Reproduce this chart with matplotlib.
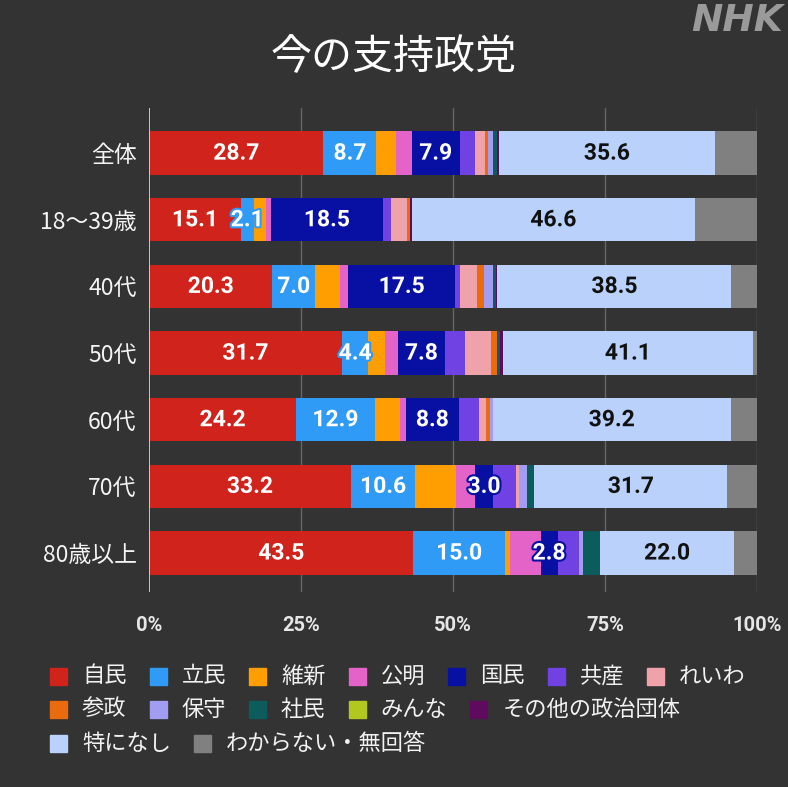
import matplotlib
matplotlib.use('Agg')
import matplotlib.pyplot as plt
import matplotlib.patheffects as pe
from matplotlib.patches import Rectangle
import numpy as np

plt.rcParams['font.family'] = ['Noto Sans CJK JP', 'DejaVu Sans']

groups = ['全体', '18〜39歳', '40代', '50代', '60代', '70代', '80歳以上']
parties = ['自民', '立民', '維新', '公明', '国民', '共産', 'れいわ',
           '参政', '保守', '社民', 'みんな', 'その他の政治団体',
           '特になし', 'わからない・無回答']

jimin = [28.7, 15.1, 20.3, 31.7, 24.2, 33.2, 43.5]
rikken = [8.7, 2.1, 7.0, 4.4, 12.9, 10.6, 15.0]
ishin = [3.3, 2.1, 4.1, 2.7, 4.2, 6.7, 0.9]
komei = [2.5, 0.7, 1.4, 2.1, 0.9, 3.1, 5.0]
kokumin = [7.9, 18.5, 17.5, 7.8, 8.8, 3.0, 2.8]
kyosan = [2.6, 1.3, 0.8, 3.3, 3.2, 3.8, 3.6]
reiwa = [1.5, 2.6, 2.8, 4.2, 1.3, 0.4, 0.0]
sansei = [0.6, 0.6, 1.2, 1.0, 0.6, 0.0, 0.0]
hoshu = [0.7, 0.0, 1.4, 0.0, 0.4, 1.4, 0.6]
shamin = [0.7, 0.0, 0.5, 0.5, 0.0, 1.2, 2.8]
minna = [0.0, 0.0, 0.0, 0.0, 0.0, 0.0, 0.0]
sonota = [0.3, 0.2, 0.3, 0.5, 0.0, 0.0, 0.0]
nashi = [35.6, 46.6, 38.5, 41.1, 39.2, 31.7, 22.0]
wakaranai = [6.9, 10.2, 4.2, 0.7, 4.3, 4.9, 3.8]

series = [jimin, rikken, ishin, komei, kokumin, kyosan, reiwa,
          sansei, hoshu, shamin, minna, sonota, nashi, wakaranai]

colors = ['#d0231b', '#2f9bf7', '#ff9e00', '#e463c8', '#0810a3', '#7142e3',
          '#f0a2aa', '#ea6a0e', '#a19df2', '#0c5c5c', '#b3c81e', '#5e0b5e',
          '#b9d1fb', '#808080']

# which series get value labels, and text colour
labeled = {0: 'white', 1: 'white', 4: 'white', 12: '#111111'}

bg = '#333333'
W, H = 788, 787
fig = plt.figure(figsize=(W / 100, H / 100), dpi=100, facecolor=bg)

# axes placed by pixel box
left, right, top, bottom = 149, 757, 108, 592
ax = fig.add_axes([left / W, 1 - bottom / H, (right - left) / W, (bottom - top) / H])
ax.set_facecolor(bg)

y = np.arange(len(groups))
start = np.zeros(len(groups))
for k, (vals, c) in enumerate(zip(series, colors)):
    vals = np.array(vals)
    ax.barh(y, vals, left=start, height=0.65, color=c, zorder=3)
    if k in labeled:
        for i, v in enumerate(vals):
            ax.text(start[i] + v / 2, y[i], f'{v:.1f}', ha='center', va='center',
                    color=labeled[k], fontsize=16.5, fontweight='bold',
                    family=['Roboto', 'DejaVu Sans'], zorder=5,
                    path_effects=[pe.withStroke(linewidth=3, foreground=c)])
    start += vals

ax.set_xlim(0, 100)
ax.set_ylim(6.585, -0.677)
ax.set_xticks([0, 25, 50, 75, 100])
ax.set_xticklabels(['0%', '25%', '50%', '75%', '100%'],
                   family=['Roboto', 'DejaVu Sans'], fontweight='bold', fontsize=14.5)
ax.set_yticks(y)
ax.set_yticklabels(groups, fontsize=16.5)
ax.tick_params(axis='x', length=0, pad=17, colors='#e6e6e6')
ax.tick_params(axis='y', length=0, pad=9, colors='#f4f4f4')
for s in ax.spines.values():
    s.set_visible(False)
for xv in [25, 50, 75, 100]:
    ax.axvline(xv, color='#666666', lw=1, zorder=1)
ax.axvline(0, color='#e0e0e0', lw=1.2, zorder=4)

fig.text(0.5, 1 - 58 / H, '今の支持政党', ha='center', va='center',
         color='white', fontsize=29.5)
fig.text(783 / W, 1 - 21 / H, 'NHK', ha='right', va='center', color='#9a9a9a',
         fontsize=27, fontweight='heavy', fontstyle='italic',
         family=['DejaVu Sans'])

# legend laid out in rows like the original
legend_rows = [[0, 1, 2, 3, 4, 5, 6], [7, 8, 9, 10, 11], [12, 13]]
row_y = [676, 709, 743]
renderer = fig.canvas.get_renderer()
sq = 17
for row, yy in zip(legend_rows, row_y):
    xx = 50
    for k in row:
        fig.patches.append(Rectangle((xx / W, 1 - (yy + sq / 2) / H), sq / W, sq / H,
                                     transform=fig.transFigure, color=colors[k],
                                     figure=fig))
        t = fig.text((xx + 32) / W, 1 - yy / H, parties[k], ha='left', va='center',
                     color='#f2f2f2', fontsize=16)
        w = t.get_window_extent(renderer).width
        xx += 32 + w + 23

fig.savefig('out.png', dpi=100, facecolor=bg)
